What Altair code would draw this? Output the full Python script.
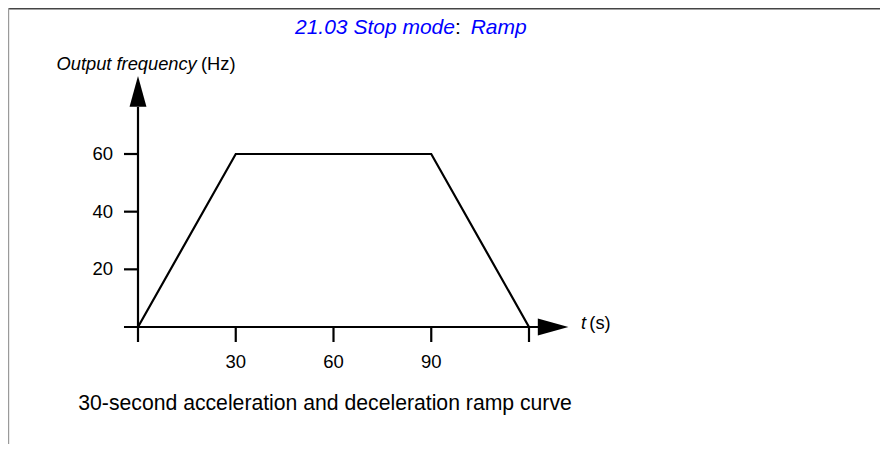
import altair as alt
import pandas as pd

# ---- data ----
ramp_t = [0, 30, 90, 120]          # time (s)
ramp_f = [0, 60, 60, 0]            # output frequency (Hz)
x_tick_values = [0, 30, 60, 90, 120]
x_tick_labels = ["30", "60", "90"]
x_label_values = [30, 60, 90]
y_tick_values = [20, 40, 60]
y_tick_labels = ["20", "40", "60"]

title_main = "21.03 Stop mode"
title_sep = ":"
title_value = "Ramp"
y_title_italic = "Output frequency"
y_title_unit = "(Hz)"
x_title_italic = "t"
x_title_unit = "(s)"
caption = "30-second acceleration and deceleration ramp curve"

# axis extents in data units
x_axis_from, x_axis_to = -4.3, 122.8
y_axis_to = 76.3
y_tick_from = -4.3
x_tick_down = -5.2
x_arrow_t = 127.4
y_arrow_f = 81.7

FONT = "Liberation Sans"
BLUE = "#0000ff"
INK = "#000000"

xs = alt.Scale(domain=[0, 120], range=[130, 521])
ys = alt.Scale(domain=[0, 60], range=[319, 146])


def X(field):
    return alt.X(field, type="quantitative", scale=xs, axis=None)


def Y(field):
    return alt.Y(field, type="quantitative", scale=ys, axis=None)


one = pd.DataFrame({"k": [0]})

# frame
frame_top = alt.Chart(one).mark_rule(color="#444444", strokeWidth=1.5).encode(
    x=alt.value(0), x2=alt.value(872), y=alt.value(0.75))
frame_left = alt.Chart(one).mark_rule(color="#9a9a9a", strokeWidth=1.2).encode(
    x=alt.value(0.6), y=alt.value(0), y2=alt.value(436))

# ramp curve
ramp = alt.Chart(pd.DataFrame({"t": ramp_t, "f": ramp_f})).mark_line(
    color="black", strokeWidth=2.2, strokeJoin="miter").encode(x=X("t"), y=Y("f"), order="t:O")

# axes lines
x_axis = alt.Chart(pd.DataFrame({"a": [x_axis_from], "b": [x_axis_to], "y": [0]})).mark_rule(
    color="black", strokeWidth=2.2).encode(x=X("a"), x2="b", y=Y("y"))
y_axis = alt.Chart(pd.DataFrame({"x": [0], "a": [0], "b": [y_axis_to]})).mark_rule(
    color="black", strokeWidth=2.2).encode(x=X("x"), y=Y("a"), y2="b")

# ticks
y_ticks = alt.Chart(pd.DataFrame({"a": [y_tick_from] * len(y_tick_values), "b": [0] * len(y_tick_values),
                                  "v": y_tick_values})).mark_rule(color="black", strokeWidth=2.2).encode(
    x=X("a"), x2="b", y=Y("v"))
x_ticks = alt.Chart(pd.DataFrame({"v": x_tick_values, "a": [0] * len(x_tick_values),
                                  "b": [x_tick_down] * len(x_tick_values)})).mark_rule(
    color="black", strokeWidth=2.2).encode(x=X("v"), y=Y("a"), y2="b")

# tick labels
y_labels = alt.Chart(pd.DataFrame({"a": [y_tick_from] * len(y_tick_values), "v": y_tick_values,
                                   "lab": y_tick_labels})).mark_text(
    align="right", baseline="middle", dx=-11, fontSize=18.5, font=FONT, color=INK).encode(
    x=X("a"), y=Y("v"), text="lab:N")
x_labels = alt.Chart(pd.DataFrame({"v": x_label_values, "z": [0] * len(x_label_values),
                                   "lab": x_tick_labels})).mark_text(
    align="center", baseline="alphabetic", dy=40.5, fontSize=18.5, font=FONT, color=INK).encode(
    x=X("v"), y=Y("z"), text="lab:N")

# arrow heads
y_arrow = alt.Chart(pd.DataFrame({"x": [0], "y": [y_arrow_f]})).mark_point(
    shape="M -0.55 1 L 0 -1 L 0.55 1 Z", filled=True, color="black", opacity=1, size=942, strokeWidth=0).encode(
    x=X("x"), y=Y("y"))
x_arrow = alt.Chart(pd.DataFrame({"x": [x_arrow_t], "y": [0]})).mark_point(
    shape="M -1 -0.56 L 1 0 L -1 0.56 Z", filled=True, color="black", opacity=1, size=936, strokeWidth=0).encode(
    x=X("x"), y=Y("y"))


def txt(s, x, y, size, color=INK, italic=False):
    kw = dict(text=s, align="left", baseline="alphabetic", fontSize=size, font=FONT, color=color)
    if italic:
        kw["fontStyle"] = "italic"
    return alt.Chart(one).mark_text(**kw).encode(x=alt.value(x), y=alt.value(y))


texts = [
    txt(title_main, 287, 25.5, 21, BLUE, True),
    txt(title_sep, 447, 25.5, 21, INK),
    txt(title_value, 462.7, 25.5, 21, BLUE, True),
    txt(y_title_italic, 48.5, 61.5, 18.3, italic=True),
    txt(y_title_unit, 193, 61.5, 18.3),
    txt(x_title_italic, 573, 321, 18.3, italic=True),
    txt(x_title_unit, 581.3, 321, 18.3),
    txt(caption, 70.3, 402, 21.2),
]

chart = alt.layer(
    frame_top, frame_left, x_axis, y_axis, y_ticks, x_ticks, ramp, y_labels, x_labels,
    y_arrow, x_arrow, *texts
).properties(
    width=872, height=436,
    autosize=alt.AutoSizeParams(type="none"),
    padding=0,
).configure_view(stroke=None).configure(background="white")

chart.save("out.html", embed_options={"renderer": "svg", "actions": False})
